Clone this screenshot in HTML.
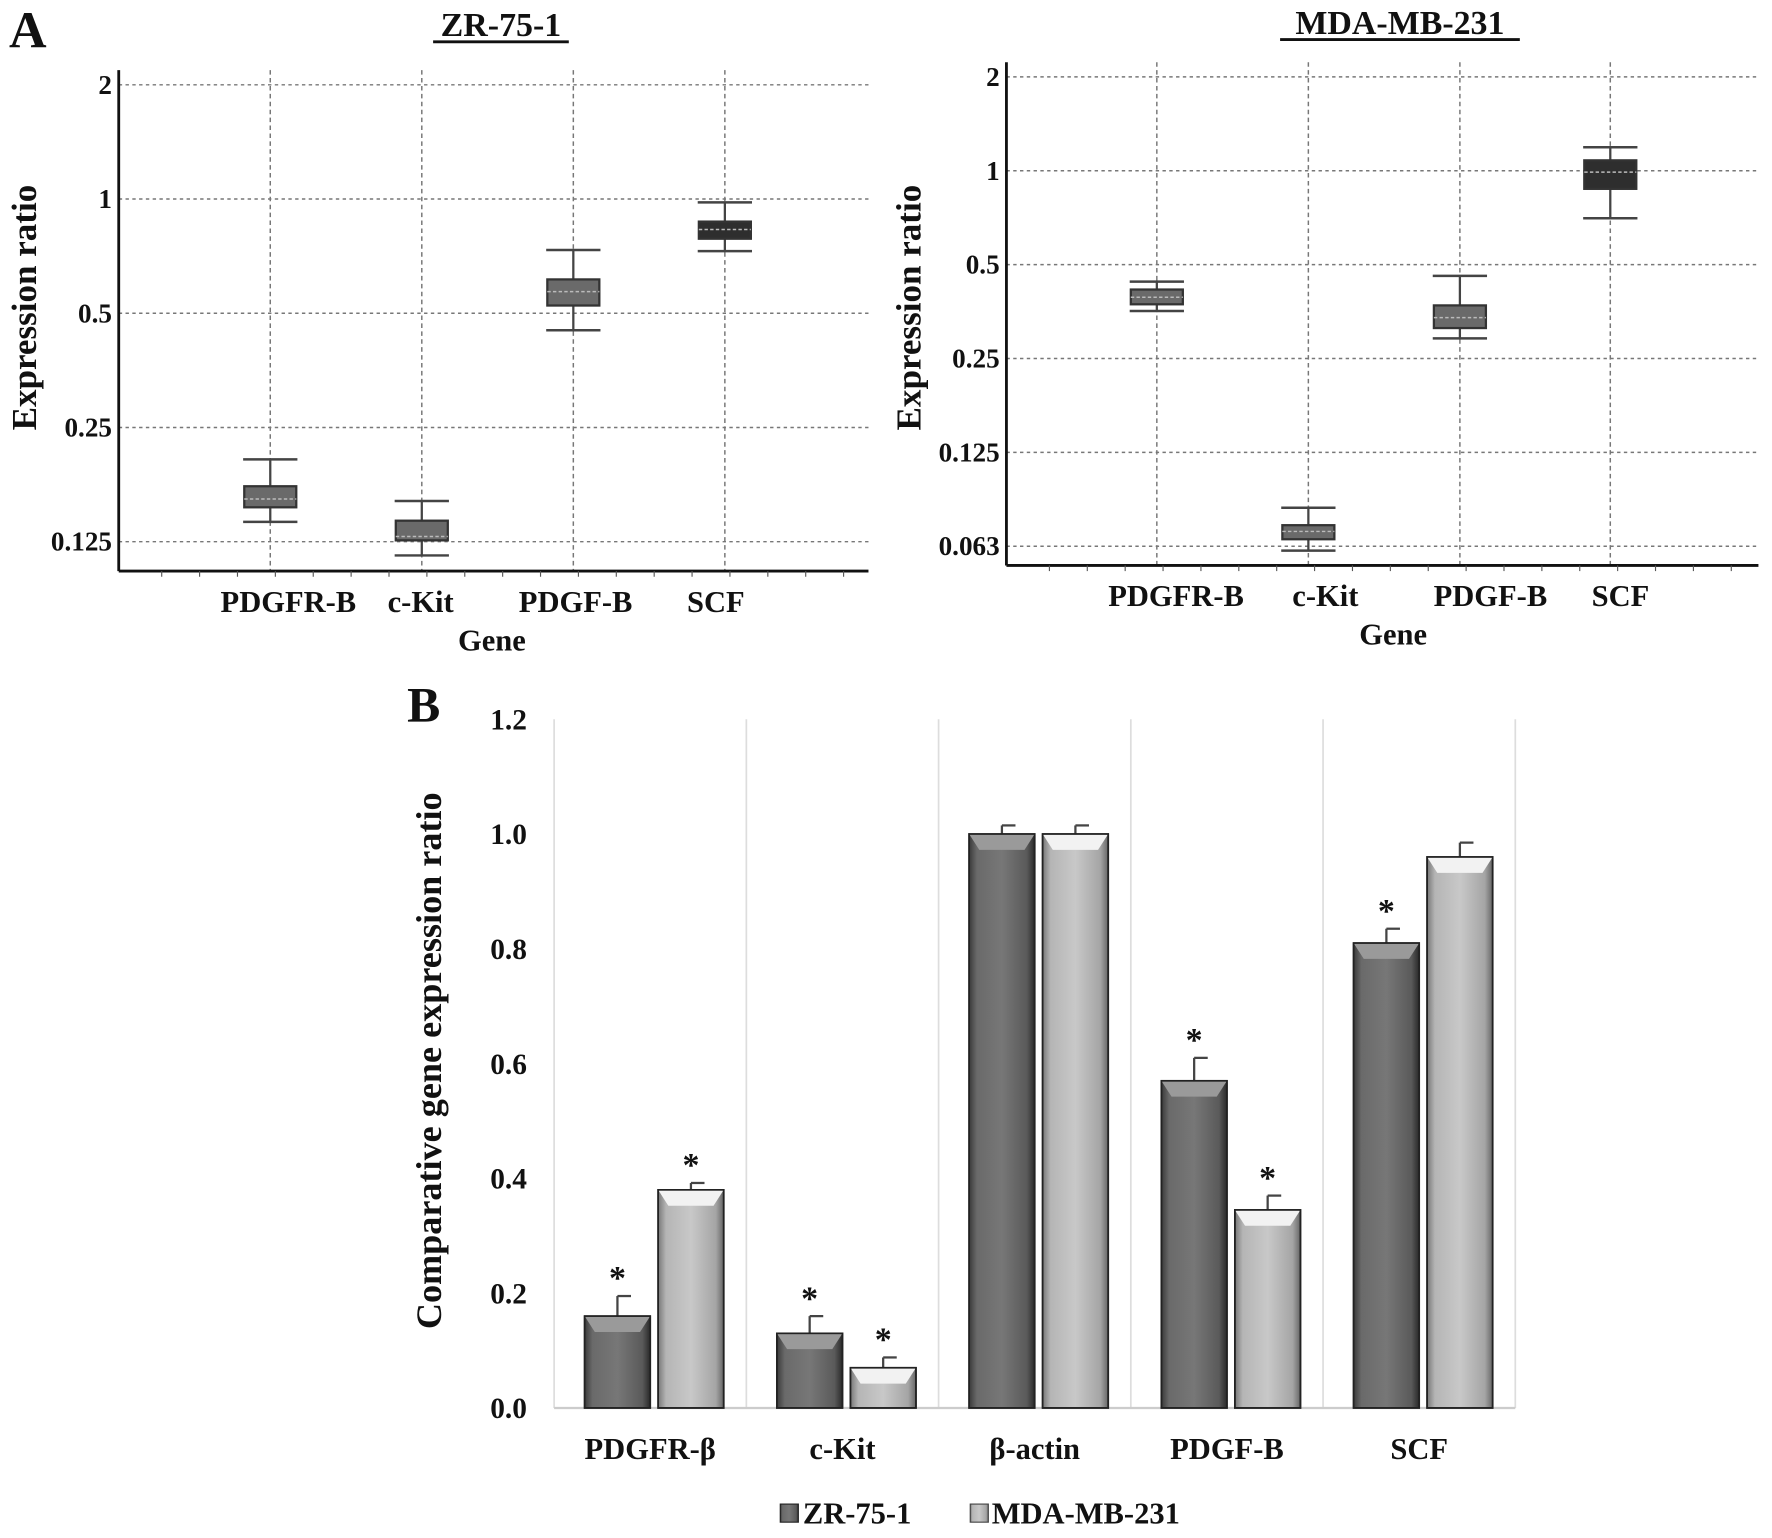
<!DOCTYPE html>
<html><head><meta charset="utf-8"><style>
html,body{margin:0;padding:0;background:#fff}
svg{display:block}
text{font-family:"Liberation Serif",serif;font-weight:bold;fill:#111}
</style></head><body>
<svg id="fig" width="1772" height="1538" viewBox="0 0 1567 1360" preserveAspectRatio="none" xmlns="http://www.w3.org/2000/svg">
<defs>
<linearGradient id="gDark" x1="0" x2="1" y1="0" y2="0"><stop offset="0" stop-color="#3a3a3a"/><stop offset="0.12" stop-color="#6a6a6a"/><stop offset="0.5" stop-color="#777"/><stop offset="0.88" stop-color="#5a5a5a"/><stop offset="1" stop-color="#2a2a2a"/></linearGradient>
<linearGradient id="gLight" x1="0" x2="1" y1="0" y2="0"><stop offset="0" stop-color="#777"/><stop offset="0.12" stop-color="#b5b5b5"/><stop offset="0.5" stop-color="#c8c8c8"/><stop offset="0.88" stop-color="#a5a5a5"/><stop offset="1" stop-color="#666"/></linearGradient>
</defs>
<g id="root"></g>
</svg>
<script>
// ===== Panel A data (log2 scale) =====
const genesA = ["PDGFR-B","c-Kit","PDGF-B","SCF"];
const zrWhiskHi = [0.206,0.160,0.734,0.98];
const zrBoxHi   = [0.175,0.142,0.614,0.872];
const zrMedian  = [0.162,0.129,0.570,0.831];
const zrBoxLo   = [0.154,0.126,0.524,0.786];
const zrWhiskLo = [0.141,0.115,0.451,0.729];
const zrTicks = [2,1,0.5,0.25,0.125];
const zrTickLabels = ["2","1","0.5","0.25","0.125"];
const mdaWhiskHi = [0.441,0.083,0.460,1.19];
const mdaBoxHi   = [0.416,0.073,0.370,1.08];
const mdaMedian  = [0.393,0.0697,0.338,0.99];
const mdaBoxLo   = [0.373,0.0658,0.313,0.875];
const mdaWhiskLo = [0.355,0.0605,0.290,0.704];
const mdaTicks = [2,1,0.5,0.25,0.125,0.0625];
const mdaTickLabels = ["2","1","0.5","0.25","0.125","0.063"];
// ===== Panel B data =====
const genesB = ["PDGFR-β","c-Kit","β-actin","PDGF-B","SCF"];
const zrValues = [0.16,0.13,1.0,0.57,0.81];
const zrErrors = [0.035,0.03,0.015,0.04,0.025];
const mdaValues = [0.38,0.07,1.0,0.345,0.96];
const mdaErrors = [0.012,0.018,0.015,0.025,0.025];
const zrStar = [true,true,false,true,true];
const mdaStar = [true,true,false,true,false];
const bTicks = [0,0.2,0.4,0.6,0.8,1.0,1.2];
const bTickLabels = ["0.0","0.2","0.4","0.6","0.8","1.0","1.2"];

const NS="http://www.w3.org/2000/svg";
const root=document.getElementById('root');
function mk(tag,attrs,parent,txt){const e=document.createElementNS(NS,tag);for(const k in attrs)e.setAttribute(k,attrs[k]);if(txt!==undefined)e.textContent=txt;(parent||root).appendChild(e);return e;}

function boxPanel(o){
  const g=mk('g',{});
  
  
  const y=v=>o.y1-o.per*Math.log2(v);
  const xs=i=>o.gx[i];
  o.ticks.forEach((t,i)=>{
    const l=mk('line',{x1:o.ax,x2:o.right,y1:y(t),y2:y(t),stroke:'#777','stroke-width':1.3,'stroke-dasharray':'3,3'},g);
    
    
    const tx=mk('text',{x:o.ax-6,y:y(t)+8,'text-anchor':'end','font-size':24},g,o.tickLabels[i]);
    
    
  });
  for(let i=0;i<4;i++){
    const l=mk('line',{x1:xs(i),x2:xs(i),y1:o.top,y2:o.bottom,stroke:'#777','stroke-width':1.3,'stroke-dasharray':'4,3'},g);
    
    
  }
  const ya=mk('line',{x1:o.ax,x2:o.ax,y1:o.top,y2:o.bottom,stroke:'#111','stroke-width':2.5},g);
  
  
  const xa=mk('line',{x1:o.ax,x2:o.right,y1:o.bottom,y2:o.bottom,stroke:'#111','stroke-width':2.5},g);
  
  
  for(let x=o.ax+38;x<o.right;x+=33.5){mk('line',{x1:x,x2:x,y1:o.bottom,y2:o.bottom+5,stroke:'#555','stroke-width':1},g);}
  for(let i=0;i<4;i++){
    const c=xs(i), dark=(i===3);
    const b=mk('g',{},g);
    
    
    mk('line',{x1:c,x2:c,y1:y(o.wh[i]),y2:y(o.wl[i]),stroke:'#444','stroke-width':2},b);
    mk('line',{x1:c-24,x2:c+24,y1:y(o.wh[i]),y2:y(o.wh[i]),stroke:'#444','stroke-width':2.2},b);
    mk('line',{x1:c-24,x2:c+24,y1:y(o.wl[i]),y2:y(o.wl[i]),stroke:'#444','stroke-width':2.2},b);
    mk('rect',{x:c-23,y:y(o.bh[i]),width:46,height:y(o.bl[i])-y(o.bh[i]),fill:dark?'#2e2e2e':'#6a6a6a',stroke:'#333','stroke-width':2},b);
    mk('line',{x1:c-23,x2:c+23,y1:y(o.md[i]),y2:y(o.md[i]),stroke:'#bbb','stroke-width':1.3,'stroke-dasharray':'3,2'},b);
  }
  o.labelX.forEach((lx,i)=>{
    const t=mk('text',{x:lx,y:o.bottom+36,'text-anchor':'middle','font-size':27},g,o.genes[i]);
    
    
  });
  const gt=mk('text',{x:o.geneX,y:o.bottom+70,'text-anchor':'middle','font-size':27},g,'Gene');
  
  
  const yt=mk('text',{x:o.ytX,y:272,'text-anchor':'middle','font-size':31,transform:`rotate(-90 ${o.ytX} 272)`},g,'Expression ratio');
  
  
  const tt=mk('text',{x:o.titleX,y:o.titleY,'text-anchor':'middle','font-size':30},g,o.title);
  
  
  mk('line',{x1:o.titleX-o.titleW/2,x2:o.titleX+o.titleW/2,y1:o.titleY+5,y2:o.titleY+5,stroke:'#111','stroke-width':2.5},g);
}

boxPanel({name:'panel-a-zr-75-1',title:'ZR-75-1',titleX:443,titleY:32,titleW:120,ax:105,right:768,top:62,bottom:505,y1:176,per:101,
  gx:[239,373,507,641],labelX:[255,372,509,633],geneX:435,ytX:32,genes:genesA,ticks:zrTicks,tickLabels:zrTickLabels,
  wh:zrWhiskHi,bh:zrBoxHi,md:zrMedian,bl:zrBoxLo,wl:zrWhiskLo});
boxPanel({name:'panel-a-mda-mb-231',title:'MDA-MB-231',titleX:1238,titleY:30,titleW:212,ax:890,right:1555,top:55,bottom:500,y1:151,per:83,
  gx:[1023,1157,1291,1424],labelX:[1040,1172,1318,1433],geneX:1232,ytX:814,genes:genesA,ticks:mdaTicks,tickLabels:mdaTickLabels,
  wh:mdaWhiskHi,bh:mdaBoxHi,md:mdaMedian,bl:mdaBoxLo,wl:mdaWhiskLo});

const la=mk('text',{x:8,y:42,'font-size':46},root,'A');



// ===== Panel B =====
const gb=mk('g',{});


const bx0=490, gw=170, base=1245, per02=101.5;
const yB=v=>base-v/0.2*per02;
const xG=i=>bx0+i*gw;
for(let i=0;i<=5;i++){
  const l=mk('line',{x1:xG(i),x2:xG(i),y1:yB(1.2),y2:base,stroke:'#ddd','stroke-width':1.5},gb);
  
  
}
mk('line',{x1:bx0,x2:xG(5),y1:base,y2:base,stroke:'#ccc','stroke-width':2},gb);
bTicks.forEach((t,i)=>{
  const tx=mk('text',{x:466,y:yB(t)+9,'text-anchor':'end','font-size':26},gb,bTickLabels[i]);
  
  
});
function bar(x,v,e,light,star,name){
  const g=mk('g',{},gb);
  
  
  const w=58, top=yB(v);
  const ey=yB(v+e);
  mk('line',{x1:x+w/2,x2:x+w/2,y1:top,y2:ey,stroke:'#444','stroke-width':2},g);
  mk('line',{x1:x+w/2,x2:x+w/2+12,y1:ey,y2:ey,stroke:'#444','stroke-width':2},g);
  mk('rect',{x:x,y:top,width:w,height:base-top,fill:light?'url(#gLight)':'url(#gDark)',stroke:'#222','stroke-width':1.5},g);
  mk('polygon',{points:`${x},${top} ${x+w},${top} ${x+w-9},${top+14} ${x+9},${top+14}`,fill:light?'#f2f2f2':'#9a9a9a'},g);
  mk('rect',{x:x,y:top,width:w,height:base-top,fill:'none',stroke:'#222','stroke-width':1.5},g);
  if(star){const s=mk('text',{x:x+w/2,y:ey-6,'text-anchor':'middle','font-size':30},g,'*');
    
    }
}
genesB.forEach((gname,i)=>{
  bar(xG(i)+27,zrValues[i],zrErrors[i],false,zrStar[i],'bar-zr-'+i);
  bar(xG(i)+92,mdaValues[i],mdaErrors[i],true,mdaStar[i],'bar-mda-'+i);
  const t=mk('text',{x:xG(i)+gw/2,y:1290,'text-anchor':'middle','font-size':27},gb,gname);
  
  
});
const ybt=mk('text',{x:390,y:938,'text-anchor':'middle','font-size':32,transform:'rotate(-90 390 938)'},gb,'Comparative gene expression ratio');


const lb=mk('text',{x:360,y:638,'font-size':44},root,'B');


const lg=mk('g',{},root);


const le1=mk('g',{},lg);


mk('rect',{x:690,y:1330,width:16,height:16,fill:'url(#gDark)',stroke:'#222'},le1);
mk('text',{x:710,y:1347,'font-size':27},le1,'ZR-75-1');
const le2=mk('g',{},lg);


mk('rect',{x:858,y:1330,width:16,height:16,fill:'url(#gLight)',stroke:'#444'},le2);
mk('text',{x:877,y:1347,'font-size':27},le2,'MDA-MB-231');
</script>
</body></html>
